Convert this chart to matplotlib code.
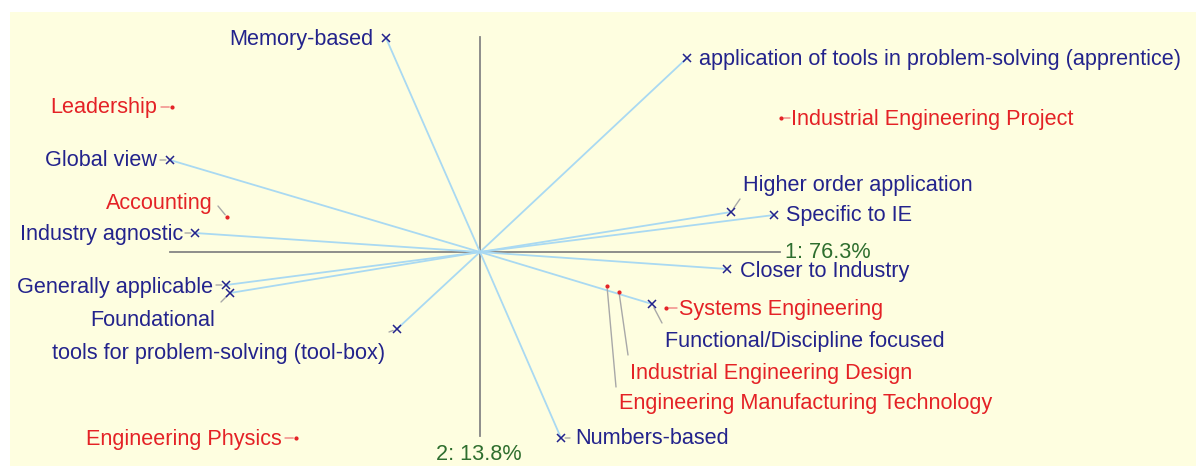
import matplotlib
matplotlib.use("Agg")
import matplotlib.pyplot as plt
from matplotlib.patches import Rectangle

plt.rcParams['font.family'] = ['Liberation Sans', 'DejaVu Sans']

# ---------------- data ----------------
var_names = ["Memory-based", "application of tools in problem-solving (apprentice)",
             "Global view", "Industry agnostic", "Generally applicable", "Foundational",
             "tools for problem-solving (tool-box)", "Higher order application",
             "Specific to IE", "Closer to Industry", "Functional/Discipline focused",
             "Numbers-based"]
var_x = [-0.94, 2.07, -3.10, -2.85, -2.54, -2.50, -0.83, 2.51, 2.94, 2.47, 1.72, 0.81]
var_y = [2.14, 1.94, 0.92, 0.19, -0.33, -0.41, -0.77, 0.40, 0.37, -0.17, -0.52, -1.86]

obs_names = ["Leadership", "Accounting", "Industrial Engineering Project",
             "Systems Engineering", "Industrial Engineering Design",
             "Engineering Manufacturing Technology", "Engineering Physics"]
obs_x = [-3.08, -2.53, 3.01, 1.86, 1.39, 1.27, -1.84]
obs_y = [1.45, 0.35, 1.34, -0.56, -0.40, -0.34, -1.86]

axis_labels = ["1: 76.3%", "2: 13.8%"]

# ---------------- layout (pixel offsets of labels / leader ends) ----------------
var_layout = {
    "Memory-based": (-13, 0, 'right', None),
    "application of tools in problem-solving (apprentice)": (12, 0, 'left', None),
    "Global view": (-13, 0, 'right', (-10, 0)),
    "Industry agnostic": (-12, -1, 'right', (-10, 0)),
    "Generally applicable": (-13, -2, 'right', (-10, 0)),
    "Foundational": (-77, -26, 'center', (-9, -9)),
    "tools for problem-solving (tool-box)": (-12, -23, 'right', (-8, -3)),
    "Higher order application": (12, 28, 'left', (9, 13)),
    "Specific to IE": (12, 0, 'left', None),
    "Closer to Industry": (13, -1, 'left', None),
    "Functional/Discipline focused": (13, -36, 'left', (10, -19)),
    "Numbers-based": (14, 0, 'left', (9, 0)),
}
obs_layout = {
    "Leadership": (-15, 0, 'right', (-11, 0)),
    "Accounting": (-14, 15, 'right', (-9, 11)),
    "Industrial Engineering Project": (10, -1, 'left', (9, 0)),
    "Systems Engineering": (13, 0, 'left', (11, 0)),
    "Industrial Engineering Design": (11, -80, 'left', (9, -63)),
    "Engineering Manufacturing Technology": (12, -117, 'left', (9, -101)),
    "Engineering Physics": (-14, 0, 'right', (-11, 0)),
}
TEXT_DY = -1  # small global baseline shift (pixels)

# ---------------- style ----------------
BG = '#fefee0'
BLUE = '#23238c'
RED = '#e42226'
GREEN = '#2e6e2e'
VEC = '#a9d9f2'
AXC = '#858585'
LEAD = '#a8a8a8'
FS = 15.6

W, H = 1196, 466
fig = plt.figure(figsize=(W / 100, H / 100), dpi=100)
fig.patch.set_facecolor('white')
fig.patches.append(Rectangle((10 / W, 0), 1 - 10 / W, 1 - 12 / H,
                             transform=fig.transFigure, facecolor=BG,
                             edgecolor='none', zorder=-10))
ax = fig.add_axes([0, 0, 1, 1])
ax.set_facecolor('none')
ax.axis('off')
ax.set_xlim(-4.80, 7.16)
ax.set_ylim(-2.14, 2.52)

# axes of biplot
ax.plot([-3.10, 3.00], [0, 0], color=AXC, lw=1.3, zorder=2)
ax.plot([0, 0], [-1.84, 2.15], color=AXC, lw=1.3, zorder=2)
ax.text(3.05, -0.01, axis_labels[0], color=GREEN, fontsize=FS, ha='left', va='center', zorder=5)
ax.text(-0.01, -2.02, axis_labels[1], color=GREEN, fontsize=FS, ha='center', va='center', zorder=5)

# variable vectors
for n, x, y in zip(var_names, var_x, var_y):
    ax.plot([0, x], [0, y], color=VEC, lw=1.3, zorder=3)
ax.plot(var_x, var_y, linestyle='none', marker='x', ms=6, mew=1.1, color=BLUE, zorder=4)

for n, x, y in zip(var_names, var_x, var_y):
    dx, dy, ha, lead = var_layout[n]
    if lead is not None:
        ax.annotate('', xy=(x, y), xytext=lead, textcoords='offset pixels',
                    arrowprops=dict(arrowstyle='-', color=LEAD, lw=1.0, shrinkA=0, shrinkB=3),
                    zorder=3)
    ax.annotate(n, xy=(x, y), xytext=(dx, dy + TEXT_DY), textcoords='offset pixels',
                ha=ha, va='center', color=BLUE, fontsize=FS, zorder=5)

# observations
ax.plot(obs_x, obs_y, linestyle='none', marker='o', ms=2.0, color=RED, zorder=4)
for n, x, y in zip(obs_names, obs_x, obs_y):
    dx, dy, ha, lead = obs_layout[n]
    long = abs(lead[1]) > 5
    ax.annotate('', xy=(x, y), xytext=lead, textcoords='offset pixels',
                arrowprops=dict(arrowstyle='-', color=(LEAD if long else '#f08080'),
                                lw=1.0, shrinkA=0, shrinkB=2), zorder=3)
    ax.annotate(n, xy=(x, y), xytext=(dx, dy + TEXT_DY), textcoords='offset pixels',
                ha=ha, va='center', color=RED, fontsize=FS, zorder=5)

fig.savefig('out.png', dpi=100, facecolor='white')
